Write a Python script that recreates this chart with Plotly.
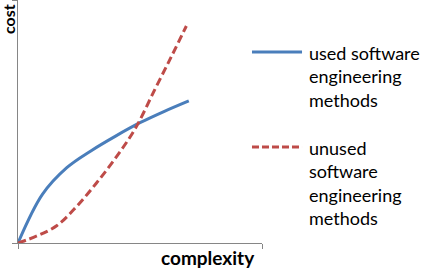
import plotly.graph_objects as go

# Data (arbitrary units)
used_x = [0, 1, 2, 3, 4, 5, 6, 7]
used_y = [0, 2.0, 3.1, 3.8, 4.4, 4.95, 5.42, 5.85]
unused_x = [0, 0.8, 1.6, 2.4, 3.2, 4.0, 4.8, 5.6, 6.3, 6.9]
unused_y = [0, 0.3, 0.72, 1.5, 2.45, 3.5, 4.7, 6.3, 7.7, 8.93]

series_names = ["used software<br>engineering<br>methods",
                "unused<br>software<br>engineering<br>methods"]
x_title = "complexity"
y_title = "cost"

BLUE = "#4A7EBB"
RED = "#BE4B48"
AXIS = "#868686"
FONT = "Lato, 'Open Sans', sans-serif"

fig = go.Figure()
fig.add_trace(go.Scatter(x=used_x, y=used_y, mode="lines",
                         line=dict(color=BLUE, width=3, shape="spline", smoothing=1.0),
                         name="used", showlegend=False))
fig.add_trace(go.Scatter(x=unused_x, y=unused_y, mode="lines",
                         line=dict(color=RED, width=3, dash="8px,4px", shape="spline", smoothing=1.0),
                         name="unused", showlegend=False))

axis_common = dict(showgrid=False, zeroline=False, showline=True, linecolor=AXIS,
                   linewidth=1, ticks="outside", ticklen=5, tickcolor=AXIS,
                   showticklabels=False, tickvals=[0, 10], range=[0, 10], fixedrange=True)
fig.update_xaxes(**axis_common)
fig.update_yaxes(**axis_common)

# Manual legend (sample lines + multi-line labels)
fig.add_shape(type="line", xref="paper", yref="paper", x0=0.959, x1=1.164, y0=0.786, y1=0.786,
              line=dict(color=BLUE, width=3))
fig.add_shape(type="line", xref="paper", yref="paper", x0=0.959, x1=1.164, y0=0.395, y1=0.395,
              line=dict(color=RED, width=3, dash="7px,3px"))
fig.add_annotation(xref="paper", yref="paper", x=1.185, y=0.687, xanchor="left", yanchor="middle",
                   text=series_names[0], showarrow=False, align="left",
                   font=dict(family=FONT, size=18, color="#000000"))
fig.add_annotation(xref="paper", yref="paper", x=1.185, y=0.245, xanchor="left", yanchor="middle",
                   text=series_names[1], showarrow=False, align="left",
                   font=dict(family=FONT, size=18, color="#000000"))

# Axis titles
fig.add_annotation(xref="paper", yref="paper", x=0.978, y=-0.006, xanchor="right", yanchor="top",
                   text="<b>" + x_title + "</b>", showarrow=False,
                   font=dict(family=FONT, size=19, color="#000000"))
fig.add_annotation(xref="paper", yref="paper", x=-0.086, y=0.99, xanchor="left", yanchor="top",
                   text="<b>" + y_title + "</b>", showarrow=False, textangle=-90,
                   font=dict(family=FONT, size=16, color="#000000"))

fig.update_layout(width=447, height=270, margin=dict(l=18, r=185, t=0, b=27),
                  paper_bgcolor="white", plot_bgcolor="white")

fig.write_html("out.html")
